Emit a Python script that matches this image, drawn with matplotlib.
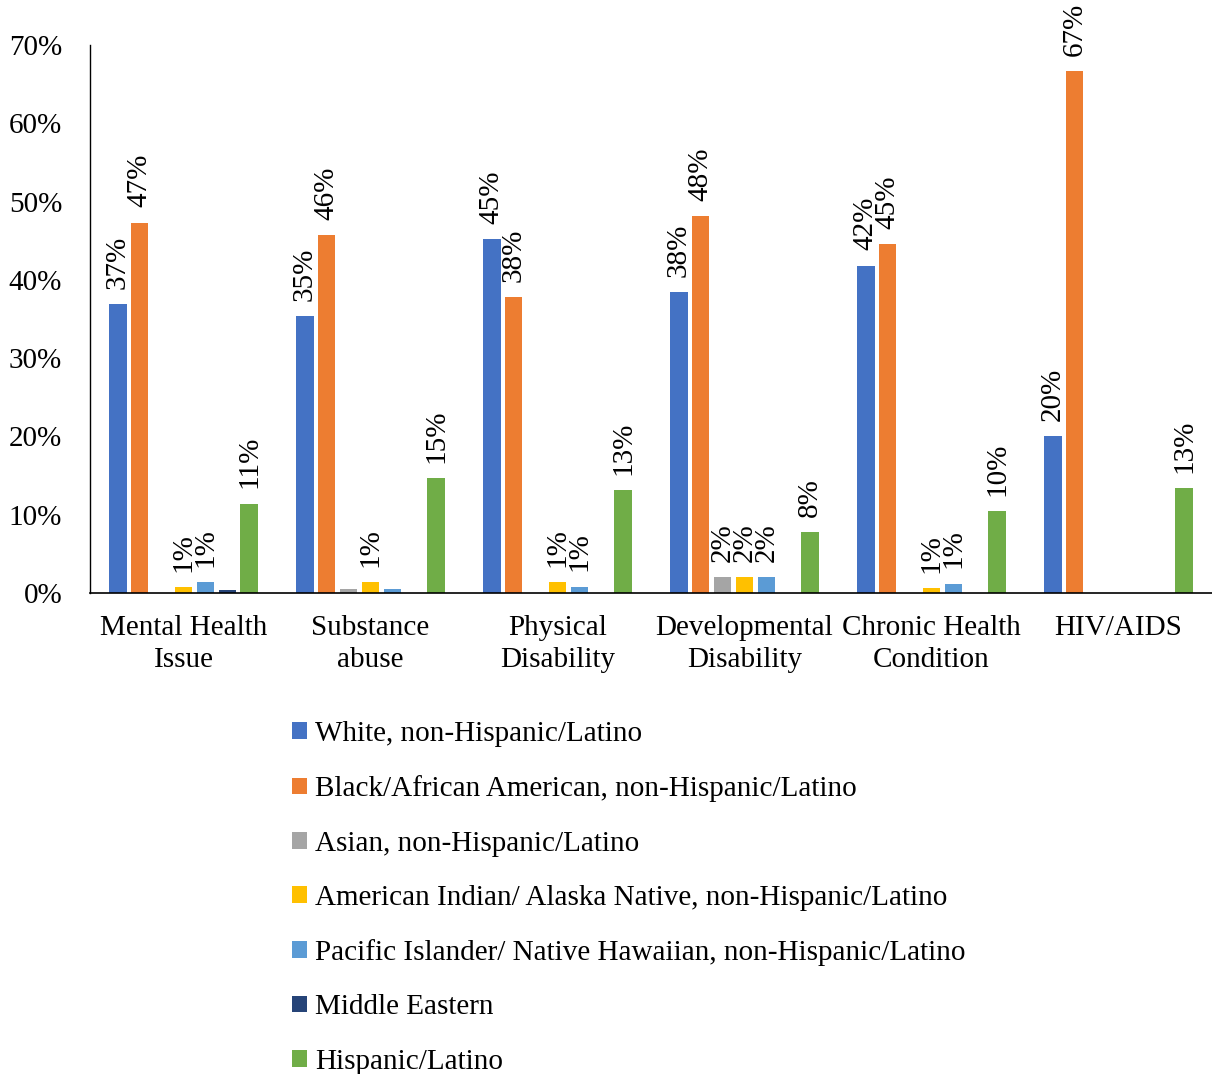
import numpy as np
import matplotlib
matplotlib.use("Agg")
import matplotlib.pyplot as plt

plt.rcParams['font.family'] = ['Liberation Serif', 'DejaVu Serif']
plt.rcParams['font.size'] = 21

categories = ['Mental Health\nIssue', 'Substance\nabuse', 'Physical\nDisability',
              'Developmental\nDisability', 'Chronic Health\nCondition', 'HIV/AIDS']
series_names = ['White, non-Hispanic/Latino',
                'Black/African American, non-Hispanic/Latino',
                'Asian, non-Hispanic/Latino',
                'American Indian/ Alaska Native, non-Hispanic/Latino',
                'Pacific Islander/ Native Hawaiian, non-Hispanic/Latino',
                'Middle Eastern',
                'Hispanic/Latino']
colors = ['#4472C4', '#ED7D31', '#A5A5A5', '#FFC000', '#5B9BD5', '#264478', '#70AD47']

white = [36.9, 35.4, 45.2, 38.4, 41.8, 20.0]
black = [47.3, 45.7, 37.8, 48.1, 44.6, 66.7]
asian = [0.0, 0.45, 0.0, 2.0, 0.0, 0.0]
amind = [0.75, 1.4, 1.4, 2.0, 0.65, 0.0]
pacific = [1.4, 0.45, 0.8, 2.0, 1.2, 0.0]
mideast = [0.4, 0.0, 0.0, 0.0, 0.0, 0.0]
hispanic = [11.4, 14.7, 13.1, 7.8, 10.5, 13.4]
values = [white, black, asian, amind, pacific, mideast, hispanic]

fig = plt.figure(figsize=(12.12, 10.74), dpi=100)
ax = fig.add_axes((90 / 1212, 1 - 593 / 1074, 1122 / 1212, 548 / 1074))

x = np.arange(len(categories))
pitch = 0.117
width = 0.093
for i, (name, vals, c) in enumerate(zip(series_names, values, colors)):
    pos = x + (i - 3) * pitch
    ax.bar(pos, vals, width, color=c, label=name)
    for px, v in zip(pos, vals):
        if round(v) >= 1:
            ax.annotate(f'{round(v):d}%', (px, v), xytext=(0, 11),
                        textcoords='offset points', rotation=90,
                        ha='center', va='bottom')

ax.set_xlim(-0.5, len(categories) - 0.5)
ax.set_ylim(0, 70)
ax.set_yticks(range(0, 71, 10))
ax.set_yticklabels([f'{t}%' for t in range(0, 71, 10)])
ax.set_xticks(x)
ax.set_xticklabels(categories, linespacing=1.3)
ax.tick_params(length=0)
ax.tick_params(axis='y', pad=20)
ax.tick_params(axis='x', pad=16)
for s in ['top', 'right']:
    ax.spines[s].set_visible(False)
ax.spines['left'].set_linewidth(1.0)
ax.spines['bottom'].set_linewidth(1.2)

fig.legend(loc='upper left', bbox_to_anchor=(292 / 1212, 1 - 721 / 1074),
           frameon=False, handlelength=0.5, handleheight=0.5,
           handletextpad=0.3, labelspacing=0.97, borderpad=0, borderaxespad=0)

fig.savefig('out.png', dpi=100)
